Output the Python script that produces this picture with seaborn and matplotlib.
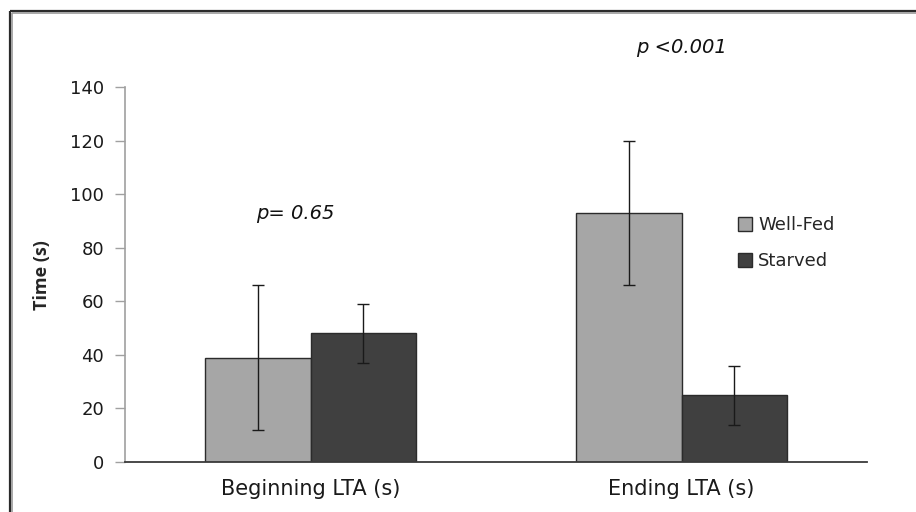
import matplotlib
matplotlib.use("Agg")
import matplotlib.pyplot as plt
import matplotlib.lines as mlines
import matplotlib.patches as mpatches
import seaborn as sns
import pandas as pd
import numpy as np

# Data
phases = ["Beginning LTA (s)", "Ending LTA (s)"]
groups = ["Well-Fed", "Starved"]
well_fed_mean = [39, 93]
starved_mean = [48, 25]
well_fed_err = [27, 27]
starved_err = [11, 11]
p_labels = ["p= 0.65", "p <0.001"]
p_label_y = [93, 155]
y_ticks = [0, 20, 40, 60, 80, 100, 120, 140]

colors = {"Well-Fed": "#a6a6a6", "Starved": "#404040"}

df = pd.DataFrame({
    "phase": phases * 2,
    "group": [groups[0]] * 2 + [groups[1]] * 2,
    "time": well_fed_mean + starved_mean,
    "err": well_fed_err + starved_err,
})

sns.set_theme(style="white")
plt.rcParams["font.family"] = ["DejaVu Sans"]

fig = plt.figure(figsize=(9.16, 5.12), dpi=100)
ax = fig.add_axes([125 / 916, 1 - 462 / 512, (867 - 125) / 916, (462 - 87.2) / 512])

sns.barplot(data=df, x="phase", y="time", hue="group", order=phases,
            hue_order=groups, palette=colors, width=0.57, errorbar=None,
            edgecolor="#2b2b2b", linewidth=1.0, saturation=1, ax=ax, legend=False)

# Error bars at each bar centre
for cont, g in zip(ax.containers, groups):
    sub = df[df["group"] == g].set_index("phase").loc[phases]
    xs = [b.get_x() + b.get_width() / 2 for b in cont]
    ax.errorbar(xs, sub["time"].values, yerr=sub["err"].values, fmt="none",
                ecolor="#1a1a1a", elinewidth=1.0, capsize=4.5, capthick=1.0, zorder=5)

ax.set_ylim(0, 140)
ax.set_yticks(y_ticks)
ax.set_xlim(-0.5, 1.5)
ax.set_xlabel("")
ax.set_ylabel("Time (s)", fontsize=13, fontweight="bold",
              family=["Liberation Sans Narrow", "Open Sans"], labelpad=14)
ax.tick_params(axis="y", which="both", left=True, length=7, width=1,
               color="#a0a0a0", labelsize=13, pad=8, labelcolor="#1a1a1a")
ax.tick_params(axis="x", length=0, labelsize=15, pad=12, labelcolor="#1a1a1a")

for s in ["top", "right"]:
    ax.spines[s].set_visible(False)
ax.spines["left"].set_color("#a0a0a0")
ax.spines["left"].set_linewidth(1.2)
ax.spines["bottom"].set_color("#3a3a3a")
ax.spines["bottom"].set_linewidth(1.3)

# Significance annotations
for i, (lab, yv) in enumerate(zip(p_labels, p_label_y)):
    xc = -0.04 if i == 0 else 1.0
    ax.text(xc, yv, lab, ha="center", va="center", fontsize=14,
            style="italic", color="#111111", clip_on=False)

# Legend
handles = [mpatches.Patch(facecolor=colors[g], edgecolor="#2b2b2b", linewidth=1.0, label=g)
           for g in groups]
ax.legend(handles=handles, loc="upper left", bbox_to_anchor=(0.817, 0.675),
          frameon=False, fontsize=13, handlelength=0.75, handleheight=0.75,
          handletextpad=0.35, labelspacing=1.0, borderaxespad=0)

# Outer frame (top and left edges)
W, H = 916, 512
def fline(x0, y0, x1, y1, c, lw):
    fig.add_artist(mlines.Line2D([x0 / W, x1 / W], [1 - y0 / H, 1 - y1 / H],
                                 transform=fig.transFigure, color=c, lw=lw,
                                 solid_capstyle="butt"))
fline(9.5, 11, W, 11, "#2a2a2a", 1.6)
fline(9.5, 11, 9.5, H, "#2a2a2a", 1.6)
fline(11.5, 13, W, 13, "#9a9a9a", 1.2)
fline(11.5, 13, 11.5, H, "#9a9a9a", 1.2)

fig.savefig("out.png", dpi=100)
